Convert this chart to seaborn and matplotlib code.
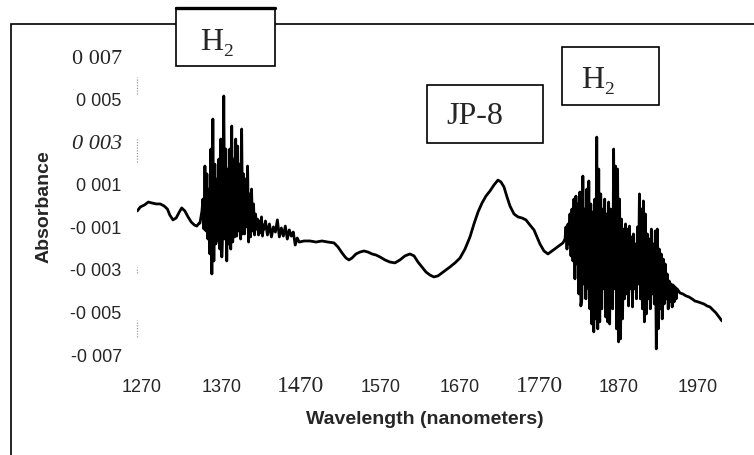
import numpy as np
import pandas as pd
import matplotlib
matplotlib.use('Agg')
import matplotlib.pyplot as plt
import seaborn as sns
from matplotlib.patches import Rectangle

# baseline before the first H2 band
wl_base = [1264, 1268, 1273, 1278, 1283, 1288, 1293, 1298, 1302, 1305, 1309, 1313,
           1317, 1320, 1324, 1328, 1332, 1336, 1339, 1342]
abs_base = [-0.00028, -0.00009, 0.00000, 0.00014, 0.00009, 0.00005, 0.00005, -0.00005,
            -0.00019, -0.00047, -0.00070, -0.00061, -0.00033, -0.00014, -0.00028, -0.00056,
            -0.00080, -0.00094, -0.00099, -0.00085]

# first H2 band
wl_h2a = [1343.00, 1344.25, 1345.50, 1346.75, 1348.00, 1349.25, 1350.50, 1351.75, 1353.00, 1354.25,
          1355.50, 1356.75, 1358.00, 1359.25, 1360.50, 1361.75, 1363.00, 1364.25, 1365.50, 1366.75,
          1368.00, 1369.25, 1370.50, 1371.75, 1373.00, 1374.25, 1375.50, 1376.75, 1378.00, 1379.25,
          1380.50, 1381.75, 1383.00, 1384.25, 1385.50, 1386.75, 1388.00, 1389.25, 1390.50, 1391.75,
          1393.00, 1394.25, 1395.50, 1396.75, 1398.00, 1399.25, 1400.50, 1401.75, 1403.00, 1404.25,
          1405.50, 1406.75, 1408.00, 1409.25, 1410.50, 1411.75, 1413.00, 1414.25, 1415.50, 1416.75,
          1418.00, 1419.25, 1420.50, 1421.75, 1423.00, 1424.25]
abs_h2a = [-0.00085, -0.00056, -0.00028, 0.00028, -0.00113, 0.00183, -0.00122, 0.00146, -0.00160, 0.00075,
           -0.00230, 0.00263, -0.00324, 0.00404, -0.00263, 0.00192, -0.00183, 0.00122, -0.00169, 0.00216,
           -0.00207, 0.00310, -0.00244, -0.00113, 0.00512, -0.00160, 0.00263, -0.00263, 0.00169, -0.00183,
           0.00263, -0.00207, 0.00371, -0.00174, 0.00216, -0.00150, 0.00310, -0.00146, 0.00277, -0.00122,
           0.00192, -0.00160, 0.00357, -0.00136, 0.00146, -0.00136, 0.00122, -0.00103, 0.00183, -0.00174,
           0.00052, -0.00150, 0.00075, -0.00122, 0.00005, -0.00141, -0.00042, -0.00113, -0.00066, -0.00141,
           -0.00075, -0.00131, -0.00056, -0.00146, -0.00094, -0.00113]

# JP-8 region
wl_mid = [1425.5, 1428.0, 1430.5, 1433.0, 1435.5, 1438.0, 1440.5, 1443.0, 1445.5, 1448.0, 1450.5, 1453.0,
          1455.5, 1458.0, 1460.5, 1463.0, 1465.5, 1468.0,
          1474.0, 1481.6, 1489.1, 1496.7, 1504.2, 1511.8, 1516.8, 1521.9, 1526.9, 1530.7, 1534.5, 1539.5,
          1544.5, 1549.6, 1554.6, 1559.7, 1564.7, 1569.7, 1576.0, 1582.3, 1588.6, 1594.9, 1601.2, 1607.5,
          1612.6, 1617.6, 1622.6, 1627.7, 1632.7, 1637.7, 1642.8, 1647.8, 1652.9, 1657.9, 1664.2, 1670.5,
          1676.8, 1683.1, 1688.1, 1693.2, 1698.2, 1703.2, 1708.3, 1713.3, 1718.3, 1722.1, 1725.9, 1729.7,
          1733.5, 1738.5, 1743.5, 1748.6, 1753.6, 1758.6, 1763.7, 1767.5, 1771.2, 1776.3, 1781.3, 1786.4,
          1791.4, 1796.4, 1800.2]
abs_mid = [-0.00075, -0.00141, -0.00089, -0.00150, -0.00103, -0.00127, -0.00070, -0.00150, -0.00108,
           -0.00146, -0.00099, -0.00160, -0.00117, -0.00146, -0.00127, -0.00188, -0.00155, -0.00174,
           -0.00169, -0.00169, -0.00174, -0.00169, -0.00174, -0.00178, -0.00197, -0.00225, -0.00249,
           -0.00258, -0.00249, -0.00230, -0.00221, -0.00216, -0.00221, -0.00230, -0.00235, -0.00244,
           -0.00258, -0.00268, -0.00272, -0.00258, -0.00239, -0.00230, -0.00239, -0.00268, -0.00291,
           -0.00315, -0.00329, -0.00338, -0.00333, -0.00319, -0.00305, -0.00291, -0.00272, -0.00249,
           -0.00207, -0.00150, -0.00089, -0.00033, 0.00009, 0.00042, 0.00066, 0.00094, 0.00117,
           0.00108, 0.00085, 0.00038, -0.00005, -0.00042, -0.00056, -0.00061, -0.00070, -0.00094,
           -0.00117, -0.00150, -0.00183, -0.00216, -0.00230, -0.00216, -0.00202, -0.00188, -0.00178]

# second H2 band
wl_h2b = [1802.75, 1804.00, 1805.25, 1806.50, 1807.75, 1809.00, 1810.25, 1811.50, 1812.75, 1814.00,
          1815.25, 1816.50, 1817.75, 1819.00, 1820.25, 1821.50, 1822.75, 1824.00, 1825.25, 1826.50,
          1827.75, 1829.00, 1830.25, 1831.50, 1832.75, 1834.00, 1835.25, 1836.50, 1837.75, 1839.00,
          1840.25, 1841.50, 1842.75, 1844.00, 1845.25, 1846.50, 1847.75, 1849.00, 1850.25, 1851.50,
          1852.75, 1854.00, 1855.25, 1856.50, 1857.75, 1859.00, 1860.25, 1861.50, 1862.75, 1864.00,
          1865.25, 1866.50, 1867.75, 1869.00, 1870.25, 1871.50, 1872.75, 1874.00, 1875.25, 1876.50,
          1877.75, 1879.00, 1880.25, 1881.50, 1882.75, 1884.00, 1885.25, 1886.50, 1887.75, 1889.00,
          1890.25, 1891.50, 1892.75, 1894.00, 1895.25, 1896.50, 1897.75, 1899.00, 1900.25, 1901.50,
          1902.75, 1904.00, 1905.25, 1906.50, 1907.75, 1909.00, 1910.25, 1911.50, 1912.75, 1914.00,
          1915.25, 1916.50, 1917.75, 1919.00, 1920.25, 1921.50, 1922.75, 1924.00, 1925.25, 1926.50,
          1927.75, 1929.00, 1930.25, 1931.50, 1932.75, 1934.00, 1935.25, 1936.50, 1937.75, 1939.00,
          1940.25, 1941.50, 1942.75, 1944.00]
abs_h2b = [-0.00160, -0.00103, -0.00207, -0.00089, -0.00183, -0.00042, -0.00239, -0.00019, -0.00263, 0.00028,
           -0.00347, 0.00042, -0.00277, 0.00005, -0.00418, 0.00061, -0.00474, -0.00441, 0.00136, -0.00371,
           -0.00019, -0.00441, 0.00075, -0.00394, 0.00113, -0.00488, 0.00005, -0.00559, -0.00033, -0.00596,
           0.00028, -0.00535, 0.00319, -0.00582, 0.00169, -0.00549, 0.00052, -0.00488, -0.00019, -0.00394,
           0.00028, -0.00526, -0.00042, -0.00549, 0.00014, -0.00559, -0.00019, -0.00441, -0.00488, 0.00263,
           -0.00394, 0.00183, -0.00582, 0.00169, -0.00643, 0.00028, -0.00629, -0.00066, -0.00535, -0.00113,
           -0.00441, -0.00089, -0.00418, -0.00113, -0.00474, -0.00099, -0.00394, -0.00150, -0.00479, -0.00136,
           -0.00394, -0.00183, -0.00441, -0.00103, -0.00371, 0.00052, -0.00441, -0.00019, -0.00488, 0.00019,
           -0.00549, -0.00042, -0.00512, -0.00136, -0.00441, -0.00160, -0.00488, -0.00113, -0.00418, -0.00183,
           -0.00465, -0.00122, -0.00676, -0.00113, -0.00582, -0.00207, -0.00488, -0.00230, -0.00535, -0.00254,
           -0.00465, -0.00277, -0.00441, -0.00324, -0.00488, -0.00357, -0.00455, -0.00371, -0.00479, -0.00376,
           -0.00455, -0.00385, -0.00441, -0.00394]

# tail
wl_tail = [1947.5, 1951.3, 1955.1, 1958.9, 1962.7, 1966.4, 1970.2, 1974.0, 1977.8, 1981.6, 1985.3,
           1989.1, 1992.9, 1996.7, 2000.5]
abs_tail = [-0.00413, -0.00418, -0.00427, -0.00432, -0.00441, -0.00451, -0.00455, -0.00460, -0.00465,
            -0.00474, -0.00479, -0.00493, -0.00507, -0.00526, -0.00545]

x_ticks = [1270, 1370, 1470, 1570, 1670, 1770, 1870, 1970]
x_labels = ['1270', '1370', '1470', '1570', '1670', '1770', '1870', '1970']
y_ticks = [0.007, 0.005, 0.003, 0.001, -0.001, -0.003, -0.005, -0.007]
y_labels = ['0 007', '0 005', '0 003', '0 001', '-0 001', '-0 003', '-0 005', '-0 007']

# bits of the faint y axis line that survived the scan
axis_bits = [(0.0052, 0.0060), (0.0020, 0.0031), (-0.0032, -0.0029), (-0.0062, -0.0054)]

spec = pd.DataFrame({
    'wavelength': wl_base + wl_h2a + wl_mid + wl_h2b + wl_tail,
    'absorbance': abs_base + abs_h2a + abs_mid + abs_h2b + abs_tail,
})

sns.set_style('white')
plt.rcParams['font.family'] = ['Liberation Sans', 'DejaVu Sans']
serif = ['Liberation Serif', 'DejaVu Serif']

W, H = 754, 456
fig = plt.figure(figsize=(W / 100, H / 100), dpi=100)
ax = fig.add_axes([137 / W, 1 - 355 / H, 585 / W, 298 / H])

sns.lineplot(data=spec, x='wavelength', y='absorbance', color='black', linewidth=2.0,
             estimator=None, ax=ax)

ax.set_xlim(1263.7, 2000.5)
ax.set_ylim(-0.007, 0.007)
for s in ax.spines.values():
    s.set_visible(False)

x0 = ax.get_xlim()[0]
for lo, hi in axis_bits:
    ax.vlines(x0, lo, hi, colors='#999999', linestyles=(0, (1, 1.2)), linewidth=0.9, clip_on=False)

ax.set_xticks(x_ticks)
ax.set_xticklabels(x_labels)
ax.set_yticks(y_ticks)
ax.set_yticklabels(y_labels)
ax.tick_params(length=0)
ax.tick_params(axis='y', pad=11)
ax.tick_params(axis='x', pad=27)

for lab in ax.get_xticklabels():
    lab.set_va('baseline')
    if lab.get_text() in ('1470', '1770'):
        lab.set_fontfamily(serif)
        lab.set_fontsize(17)
    else:
        lab.set_fontsize(13)
for lab in ax.get_yticklabels():
    t = lab.get_text()
    if t == '0 007':
        lab.set_fontfamily(serif)
        lab.set_fontsize(16)
    elif t == '0 003':
        lab.set_fontfamily(serif)
        lab.set_fontstyle('italic')
        lab.set_fontsize(16)
    else:
        lab.set_fontsize(13)

ax.set_xlabel('Wavelength (nanometers)', fontsize=14, fontweight='bold')
ax.xaxis.label.set_va('center')
ax.xaxis.set_label_coords((425 - 137) / 585, -(419 - 355) / 298)
ax.set_ylabel('Absorbance', fontsize=14, fontweight='bold')
ax.yaxis.label.set_va('center')
ax.yaxis.set_label_coords((44 - 137) / 585, (355 - 207) / 298)

# chart frame (cut off at right and bottom in the scan)
fig.add_artist(Rectangle((11 / W, -0.2), 1.2, 1.2 - 25 / H, fill=False, ec='black',
                         lw=1.2, transform=fig.transFigure, zorder=0))


def label_box(x1, y1, x2, y2, text, tx, ty):
    fig.add_artist(Rectangle((x1 / W, 1 - y2 / H), (x2 - x1) / W, (y2 - y1) / H,
                             fc='white', ec='black', lw=1.2, transform=fig.transFigure, zorder=5))
    fig.text(tx / W, 1 - ty / H, text, ha='center', va='center', fontsize=23,
             family=serif, zorder=6)


label_box(176, 9, 275, 67, 'H\u2082', 217, 42)
fig.add_artist(plt.Line2D([176 / W, 275 / W], [1 - 9 / H, 1 - 9 / H], color='black', lw=2.4,
                          transform=fig.transFigure, zorder=6))
label_box(427, 86, 543, 144, 'JP-8', 475, 117)
label_box(562, 48, 659, 106, 'H\u2082', 598, 80)

fig.savefig('out.png', dpi=100)
